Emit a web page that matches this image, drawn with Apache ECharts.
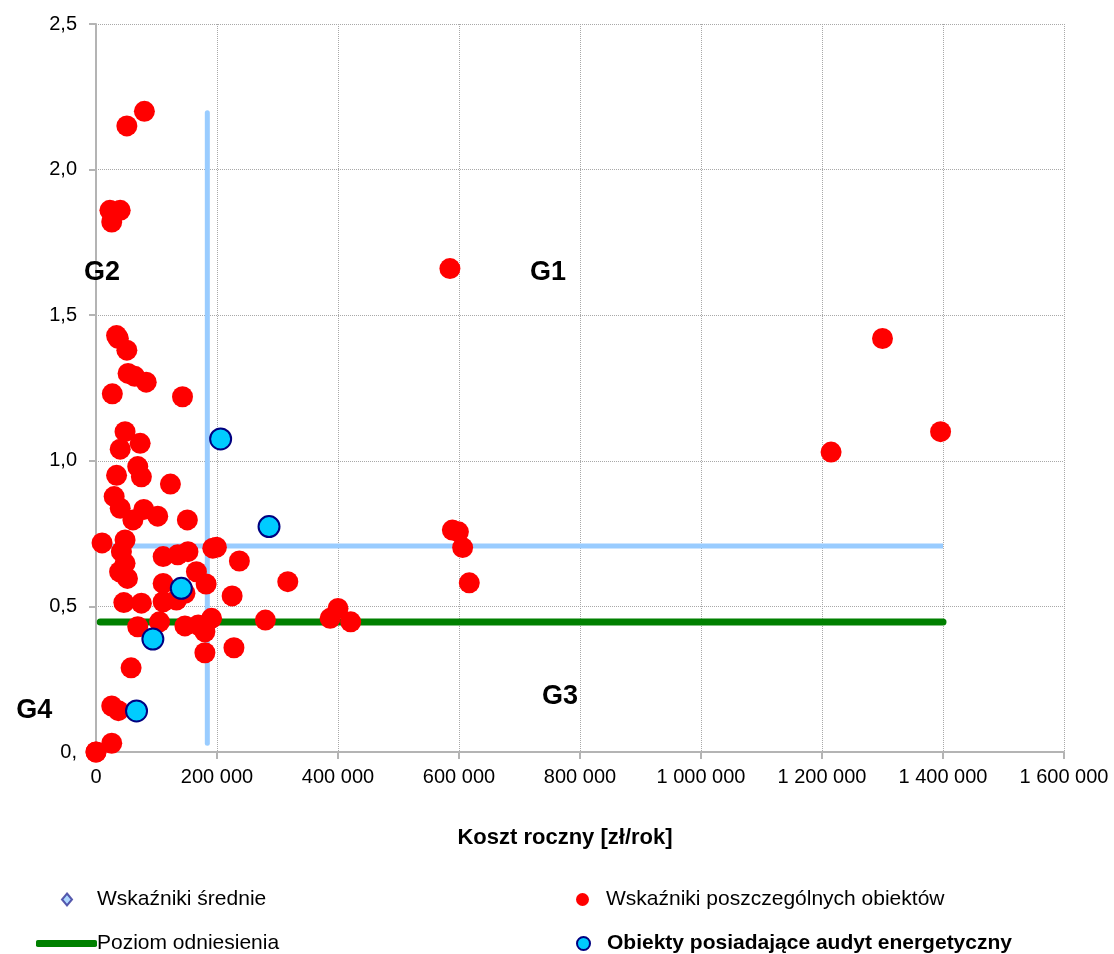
<!DOCTYPE html>
<html>
<head>
<meta charset="utf-8">
<script src="https://cdn.jsdelivr.net/npm/echarts@6/dist/echarts.min.js"></script>
<style>
html,body{margin:0;padding:0;background:#fff;}
#chart{width:1114px;height:954px;}
</style>
</head>
<body>
<div id="chart"></div>
<script>
// ---- data ----
const seriesNames = ['Wskaźniki średnie', 'Wskaźniki poszczególnych obiektów', 'Poziom odniesienia', 'Obiekty posiadające audyt energetyczny'];
const xTickLabels = ['0', '200 000', '400 000', '600 000', '800 000', '1 000 000', '1 200 000', '1 400 000', '1 600 000'];
const yTickLabels = ['0,', '0,5', '1,0', '1,5', '2,0', '2,5'];
const xAxisName = 'Koszt roczny [zł/rok]';

// individual objects [annual cost, indicator]
const objectPoints = [
  [80000,2.20],[51000,2.15],[23000,1.86],[40000,1.86],[26000,1.82],[585000,1.66],[1300000,1.42],
  [34000,1.43],[37000,1.42],[51000,1.38],[53000,1.30],[64000,1.29],[83000,1.27],[27000,1.23],
  [143000,1.22],[1396000,1.10],[1215000,1.03],[48000,1.10],[73000,1.06],[40000,1.04],[69000,0.98],
  [75000,0.945],[34000,0.95],[123000,0.92],[30000,0.877],[40000,0.837],[61000,0.797],[79000,0.833],
  [102000,0.81],[151000,0.797],[10000,0.718],[48000,0.728],[42000,0.688],[111000,0.671],[135000,0.677],
  [152000,0.688],[193000,0.70],[199000,0.703],[237000,0.656],[48000,0.648],[39000,0.619],[52000,0.596],
  [166000,0.619],[182000,0.577],[111000,0.579],[147000,0.545],[225000,0.536],[317000,0.585],[46000,0.513],
  [75000,0.511],[111000,0.516],[133000,0.522],[69000,0.43],[105000,0.447],[147000,0.433],[169000,0.436],
  [180000,0.413],[191000,0.459],[180000,0.341],[228000,0.358],[58000,0.289],[280000,0.453],[400000,0.493],
  [387000,0.459],[421000,0.447],[589000,0.762],[599000,0.756],[606000,0.702],[617000,0.581],[26000,0.158],
  [37000,0.142],[26000,0.03],[0,0],[0,0]
];
// objects with energy audit
const auditPoints = [[206000,1.075],[286000,0.774],[141000,0.562],[94000,0.388],[67000,0.141]];
// averages (quadrant lines)
const avgCost = 184000;
const avgIndicator = 0.707;
const avgVerticalSpan = [0.03, 2.195];
const avgHorizontalSpan = [7000, 1400000];
// reference level
const referenceLevel = 0.446;
const referenceSpan = [7000, 1400000];
// group labels
const groupLabels = ['G1', 'G2', 'G3', 'G4'];
const groupX = [747000, 10000, 767000, -102000];
const groupY = [1.645, 1.645, 0.192, 0.144];

// ---- chart ----
const FONT = 'Liberation Sans, Arial, sans-serif';
const chart = echarts.init(document.getElementById('chart'), null, {renderer: 'canvas'});
const option = {
  backgroundColor: '#ffffff',
  animation: false,
  textStyle: {fontFamily: FONT, color: '#000'},
  grid: {left: 96, right: 50, top: 24, bottom: 202, containLabel: false},
  xAxis: {
    type: 'value', min: 0, max: 1600000, interval: 200000,
    name: xAxisName, nameLocation: 'middle', nameGap: 75,
    nameTextStyle: {fontFamily: FONT, fontSize: 22, fontWeight: 'bold', color: '#000', padding: [0, 30, 0, 0]},
    axisLine: {show: true, lineStyle: {color: '#b4b4b4', width: 2}},
    axisTick: {show: true, length: 7, lineStyle: {color: '#b4b4b4', width: 2}},
    axisLabel: {fontFamily: FONT, fontSize: 20, color: '#000', margin: 15,
      formatter: (v) => xTickLabels[Math.round(v / 200000)]},
    splitLine: {show: true, lineStyle: {color: '#a8a8a8', type: 'dotted', width: 1}}
  },
  yAxis: {
    type: 'value', min: 0, max: 2.5, interval: 0.5,
    axisLine: {show: true, lineStyle: {color: '#b4b4b4', width: 2}},
    axisTick: {show: true, length: 7, lineStyle: {color: '#b4b4b4', width: 2}},
    axisLabel: {fontFamily: FONT, fontSize: 20, color: '#000', margin: 19,
      formatter: (v) => yTickLabels[Math.round(v / 0.5)]},
    splitLine: {show: true, lineStyle: {color: '#a8a8a8', type: 'dotted', width: 1}}
  },
  legend: [
    {data: [seriesNames[0]], left: 56, top: 884, icon: 'diamond', itemWidth: 10, itemHeight: 12, selectedMode: false,
      textStyle: {fontFamily: FONT, fontSize: 21, color: '#000', padding: [0, 0, 0, 20]}},
    {data: [seriesNames[1]], left: 571, top: 884, icon: 'circle', itemWidth: 13, itemHeight: 13, selectedMode: false,
      textStyle: {fontFamily: FONT, fontSize: 21, color: '#000', padding: [0, 0, 0, 12]}},
    {data: [seriesNames[2]], left: 31, top: 928, icon: 'roundRect', itemWidth: 61, itemHeight: 7, selectedMode: false,
      textStyle: {fontFamily: FONT, fontSize: 21, color: '#000', padding: [0, 0, 0, -5]}},
    {data: [seriesNames[3]], left: 571, top: 928, icon: 'circle', itemWidth: 13, itemHeight: 13, selectedMode: false,
      textStyle: {fontFamily: FONT, fontSize: 21, fontWeight: 'bold', color: '#000', padding: [0, 0, 0, 12]}}
  ],
  series: [
    {name: 'avgV', type: 'line', data: [[avgCost, avgVerticalSpan[0]], [avgCost, avgVerticalSpan[1]]],
      symbol: 'none', lineStyle: {color: '#99ccff', width: 5, cap: 'round'}, silent: true, z: 2},
    {name: 'avgH', type: 'line', data: [[avgHorizontalSpan[0], avgIndicator], [avgHorizontalSpan[1], avgIndicator]],
      symbol: 'none', lineStyle: {color: '#99ccff', width: 5, cap: 'butt'}, silent: true, z: 2},
    {name: seriesNames[2], type: 'line', data: [[referenceSpan[0], referenceLevel], [referenceSpan[1], referenceLevel]],
      symbol: 'none', color: '#008000', itemStyle: {color: '#008000'},
      lineStyle: {color: '#008000', width: 7, cap: 'round'}, z: 3},
    {name: seriesNames[0], type: 'scatter', data: [], symbol: 'diamond',
      itemStyle: {color: '#99ccff', borderColor: '#333399', borderWidth: 1}, z: 4},
    {name: seriesNames[1], type: 'scatter', data: objectPoints, symbol: 'circle', symbolSize: 21, clip: false,
      itemStyle: {color: '#ff0000', opacity: 1}, z: 5},
    {name: seriesNames[3], type: 'scatter', data: auditPoints, symbol: 'circle', symbolSize: 21, clip: false,
      itemStyle: {color: '#00ccff', borderColor: '#000080', borderWidth: 2, opacity: 1}, z: 6}
  ]
};
chart.setOption(option);

// group labels placed through the axes' own scales
const graphics = groupLabels.map((g, i) => {
  const p = chart.convertToPixel({gridIndex: 0}, [groupX[i], groupY[i]]);
  return {type: 'text', x: p[0], y: p[1], z: 10,
    style: {text: g, fontFamily: FONT, fontSize: 27, fontWeight: 'bold', fill: '#000',
      align: 'center', verticalAlign: 'middle'}};
});
chart.setOption({graphic: graphics});
</script>
</body>
</html>
